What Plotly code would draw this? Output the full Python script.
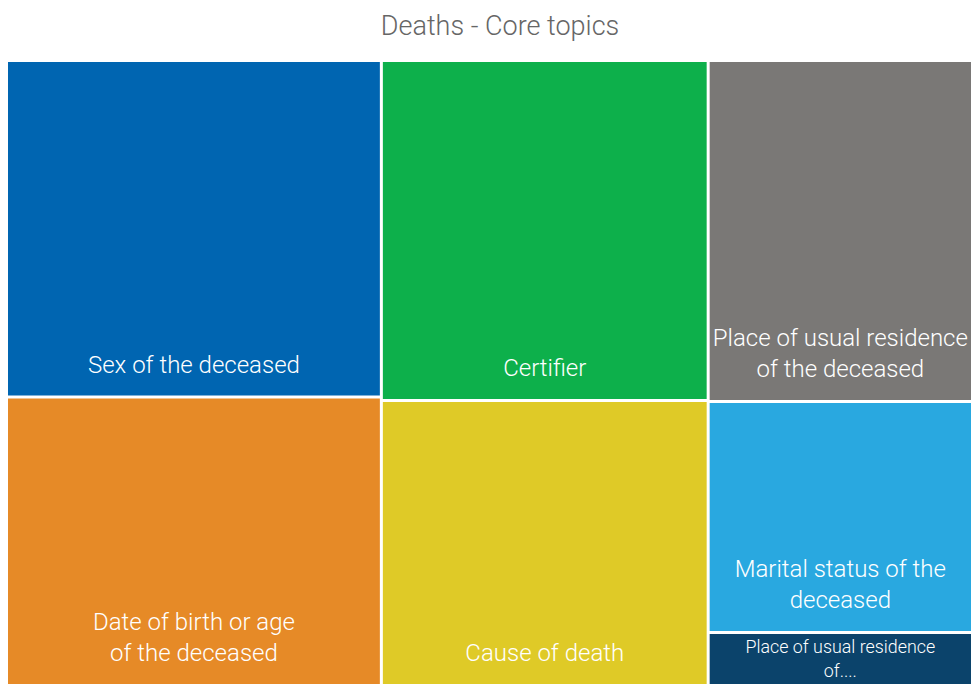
import plotly.graph_objects as go

# Data
topics = [
    "Sex of the deceased",
    "Date of birth or age of the deceased",
    "Certifier",
    "Cause of death",
    "Place of usual residence of the deceased",
    "Marital status of the deceased",
    "Place of usual residence of....",
]
label_lines = [
    ["Sex of the deceased"],
    ["Date of birth or age", "of the deceased"],
    ["Certifier"],
    ["Cause of death"],
    ["Place of usual residence", "of the deceased"],
    ["Marital status of the", "deceased"],
    ["Place of usual residence", "of...."],
]
values = [126, 108, 111, 93, 90, 61, 14]
groups = ["g1", "g1", "g2", "g2", "g3", "g3", "g3"]
colors = ["#0065b1", "#e68a27", "#0db04b", "#dfca27", "#7a7876", "#29a8e0", "#0b436b"]
group_ids = ["g1", "g2", "g3"]

# tall invisible spacer on the last line lifts the label off the bottom edge
spacer = "<span style='font-size:80px'>\u00a0</span>"


def fmt(lines, lift):
    if not lift:
        return "<br>".join(lines)
    return "<br>".join(lines[:-1] + [spacer + lines[-1] + spacer])


ids = group_ids + topics
labels = ["", "", ""] + ["<br>".join(l) for l in label_lines]
parents = ["", "", ""] + groups
vals = [0, 0, 0] + values
cols = ["#ffffff"] * 3 + colors
texts = ["", "", ""] + [fmt(l, v > 20) for l, v in zip(label_lines, values)]

fig = go.Figure(go.Treemap(
    ids=ids,
    labels=labels,
    parents=parents,
    values=vals,
    text=texts,
    branchvalues="remainder",
    sort=False,
    texttemplate="%{text}",
    textposition="bottom center",
    textfont=dict(family="Roboto", size=24, color="#ffffff", weight=300),
    marker=dict(colors=cols, line=dict(width=0, color="#ffffff"),
                pad=dict(t=0, l=0, r=0, b=0)),
    tiling=dict(packing="slice-dice", pad=3),
    pathbar=dict(visible=False),
    hoverinfo="label+value",
))

W, H = 963, 676
fig.update_layout(
    width=W,
    height=H,
    margin=dict(l=0, r=0, t=54, b=0),
    paper_bgcolor="#ffffff",
    title=dict(text="Deaths - Core topics", x=492 / W, xanchor="center",
               y=1 - 18 / H, yanchor="middle",
               font=dict(family="Roboto", size=27, color="#666666", weight=300)),
)

fig.write_html("out.html")
